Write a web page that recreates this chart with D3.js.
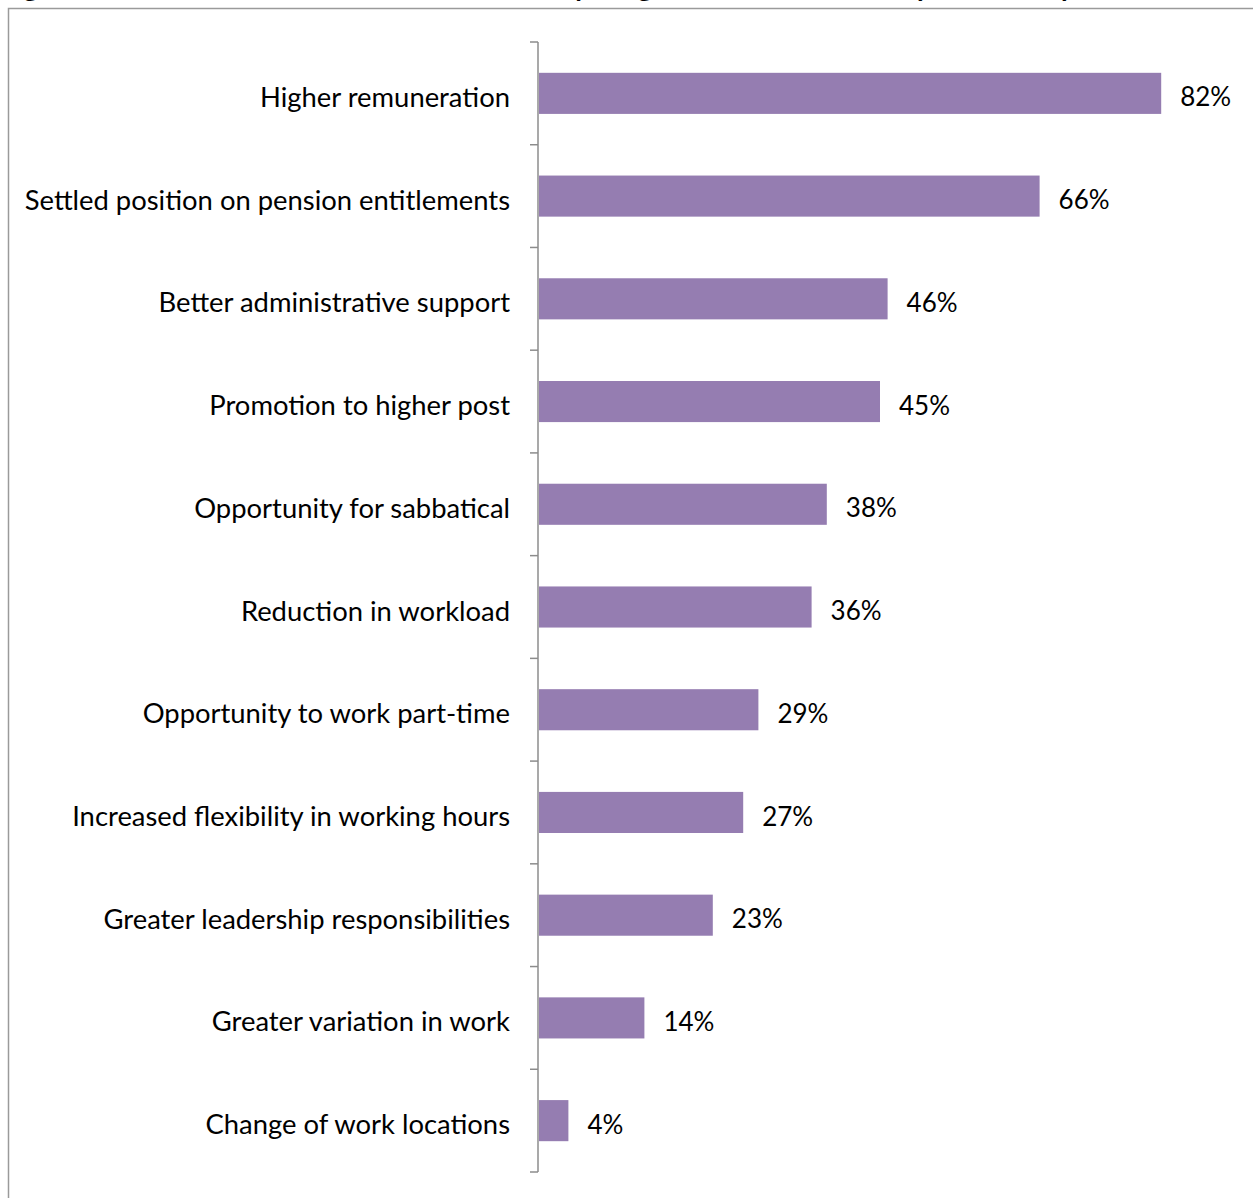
<!DOCTYPE html>
<html>
<head>
<meta charset="utf-8">
<script src="https://cdn.jsdelivr.net/npm/d3@7"></script>
<style>
  html, body { margin: 0; padding: 0; background: #fff; overflow: hidden; }
  svg { display: block; }
</style>
</head>
<body>
<svg id="chart" width="1253" height="1198"></svg>
<script>
// Survey responses: share choosing each incentive
const categories = [
  "Higher remuneration",
  "Settled position on pension entitlements",
  "Better administrative support",
  "Promotion to higher post",
  "Opportunity for sabbatical",
  "Reduction in workload",
  "Opportunity to work part-time",
  "Increased flexibility in working hours",
  "Greater leadership responsibilities",
  "Greater variation in work",
  "Change of work locations"
];
const values = [82, 66, 46, 45, 38, 36, 29, 27, 23, 14, 4];
const titleText = "Figure 11: Consultants were asked whether anything could make them stay. What they said";

const svg = d3.select("#chart");
const W = 1253, H = 1198;
const FONT = "Lato, 'Open Sans', sans-serif";

// chart frame
svg.append("rect")
  .attr("x", 8.5).attr("y", 8.5)
  .attr("width", W + 20).attr("height", H + 20)
  .attr("fill", "none").attr("stroke", "#9a9a9a").attr("stroke-width", 1.5);

// heading, mostly above the visible area
svg.append("text")
  .attr("x", 0).attr("y", -4)
  .attr("font-family", FONT).attr("font-weight", 700)
  .attr("font-size", 28).attr("fill", "#000")
  .text(titleText);

const axisX = 538;
const y = d3.scaleBand().domain(categories).range([42, 1172]).paddingInner(0.6).paddingOuter(0.3);
const x = d3.scaleLinear().domain([0, 100]).range([axisX, axisX + 760]);
const labelY = c => y(c) + y.bandwidth() / 2 + 4;

// bars
svg.append("g").selectAll("rect").data(values).join("rect")
  .attr("x", x(0) + 1)
  .attr("y", (d, i) => y(categories[i]))
  .attr("width", d => x(d) - x(0) - 1)
  .attr("height", y.bandwidth())
  .attr("fill", "#957db1");

// category axis with ticks between categories
const step = y.step();
const boundaries = d3.range(categories.length + 1).map(i => 42 + i * step);
const axis = svg.append("g");
axis.append("line")
  .attr("x1", axisX).attr("x2", axisX)
  .attr("y1", boundaries[0]).attr("y2", boundaries[boundaries.length - 1])
  .attr("stroke", "#8c8c8c").attr("stroke-width", 1.5);
axis.selectAll("line.tick").data(boundaries).join("line")
  .attr("class", "tick")
  .attr("x1", axisX - 8).attr("x2", axisX)
  .attr("y1", d => d).attr("y2", d => d)
  .attr("stroke", "#8c8c8c").attr("stroke-width", 1.5);

// category labels
axis.selectAll("text").data(categories).join("text")
  .attr("x", axisX - 28)
  .attr("y", d => labelY(d))
  .attr("dy", "0.35em")
  .attr("text-anchor", "end")
  .attr("font-family", FONT).attr("font-size", 27.4).attr("fill", "#000")
  .text(d => d);

// value labels
svg.append("g").selectAll("text").data(values).join("text")
  .attr("x", d => x(d) + 19)
  .attr("y", (d, i) => labelY(categories[i]))
  .attr("dy", "0.35em")
  .attr("font-family", FONT).attr("font-size", 26).attr("fill", "#000")
  .text(d => d + "%");
</script>
</body>
</html>
